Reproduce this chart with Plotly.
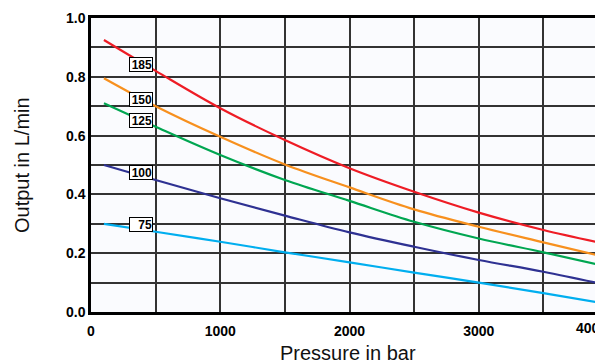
import plotly.graph_objects as go

pressure = [100, 500, 1000, 1500, 2000, 2500, 3000, 3500, 4000]
out_185 = [0.925, 0.82, 0.693, 0.585, 0.489, 0.409, 0.338, 0.279, 0.230]
out_150 = [0.795, 0.70, 0.596, 0.502, 0.424, 0.349, 0.290, 0.237, 0.185]
out_125 = [0.71, 0.63, 0.534, 0.449, 0.378, 0.307, 0.250, 0.203, 0.154]
out_100 = [0.50, 0.449, 0.387, 0.328, 0.271, 0.222, 0.177, 0.137, 0.091]
out_75 = [0.30, 0.273, 0.239, 0.203, 0.169, 0.134, 0.100, 0.064, 0.027]

series_names = ["185", "150", "125", "100", "75"]
series_values = [out_185, out_150, out_125, out_100, out_75]
series_colors = ["#ee1c25", "#f7901e", "#00a651", "#2e3192", "#00aeef"]
label_x = 388
label_y = [0.8435, 0.724, 0.653, 0.473, 0.298]

x_ticks = [0, 1000, 2000, 3000]
y_ticks = [0.0, 0.2, 0.4, 0.6, 0.8, 1.0]

FONT = "Liberation Sans, Arial, Helvetica, sans-serif"

fig = go.Figure()
for name, vals, col in zip(series_names, series_values, series_colors):
    fig.add_trace(go.Scatter(x=pressure, y=vals, mode="lines", name=name,
                             line=dict(color=col, width=2.2, shape="spline"),
                             showlegend=False, hoverinfo="skip"))

for name, ly in zip(series_names, label_y):
    fig.add_annotation(x=label_x, y=ly, xref="x", yref="y", text="<b>" + name + "</b>",
                       showarrow=False, bgcolor="white", bordercolor="black",
                       borderwidth=1, borderpad=0, width=22, height=13, align="right",
                       font=dict(family=FONT, size=12, color="black"))

# partly clipped 4000 tick label
fig.add_annotation(x=0.935, y=0, xref="paper", yref="paper", xanchor="left",
                   yanchor="middle", yshift=-16, text="<b>4000</b>",
                   showarrow=False, font=dict(family=FONT, size=14, color="black"))

fig.add_annotation(x=0.498, y=0, xref="paper", yref="paper", yanchor="middle",
                   yshift=-41, text="Pressure in bar", showarrow=False,
                   font=dict(family=FONT, size=20, color="#111"))
fig.add_annotation(x=0, y=0.5, xref="paper", yref="paper", xanchor="center",
                   xshift=-69, text="Output in L/min", showarrow=False, textangle=-90,
                   font=dict(family=FONT, size=20, color="#111"))

fig.update_layout(
    width=603, height=363,
    margin=dict(l=83, r=0, t=10, b=59),
    paper_bgcolor="white", plot_bgcolor="#fafbfe",
    font=dict(family=FONT, color="black"),
)
fig.update_xaxes(range=[0, 4000], tickvals=x_ticks,
                 ticktext=["<b>%d</b>" % v for v in x_ticks],
                 tickfont=dict(family=FONT, size=14, color="black"),
                 ticklabelstandoff=4,
                 showgrid=True, gridcolor="#333333", gridwidth=1.5,
                 minor=dict(dtick=500, showgrid=True, gridcolor="#333333", gridwidth=1.5),
                 showline=True, linecolor="black", linewidth=2.5, mirror=True,
                 zeroline=False, ticks="", fixedrange=True)
fig.update_yaxes(range=[0, 1.0], tickvals=y_ticks,
                 ticktext=["<b>%.1f</b>" % v for v in y_ticks],
                 tickfont=dict(family=FONT, size=14, color="black"),
                 showgrid=True, gridcolor="#333333", gridwidth=1.5,
                 minor=dict(dtick=0.1, showgrid=True, gridcolor="#333333", gridwidth=1.5),
                 showline=True, linecolor="black", linewidth=2.5, mirror=True,
                 zeroline=False, ticks="", fixedrange=True)

fig.write_html("out.html")
